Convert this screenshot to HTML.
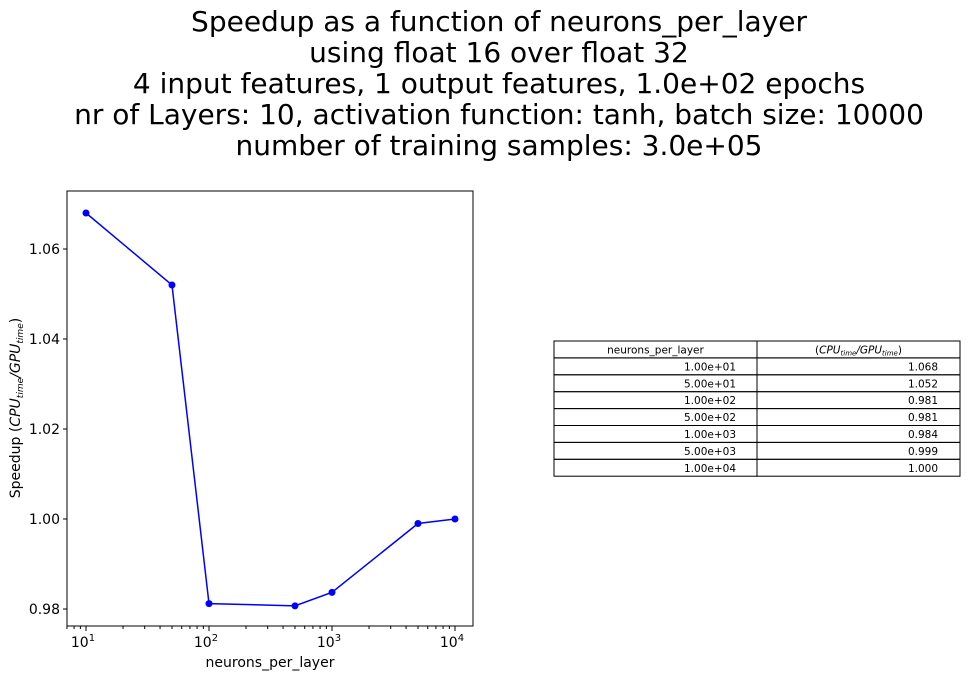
<!DOCTYPE html>
<html><head><meta charset="utf-8"><style>
body{margin:0;background:#fff;width:970px;height:677px;overflow:hidden;font-family:"DejaVu Sans","Liberation Sans",sans-serif}
</style></head><body>
<svg width="970" height="677" xmlns="http://www.w3.org/2000/svg" font-family="DejaVu Sans, Liberation Sans, sans-serif">
<g id="title" font-size="28" text-anchor="middle" fill="#000">
<text x="499" y="31">Speedup as a function of neurons_per_layer</text>
<text x="499" y="62">using float 16 over float 32</text>
<text x="499" y="93">4 input features, 1 output features, 1.0e+02 epochs</text>
<text x="499" y="124">nr of Layers: 10, activation function: tanh, batch size: 10000</text>
<text x="499" y="155">number of training samples: 3.0e+05</text>
</g>
<rect x="67" y="191" width="406" height="435" fill="none" stroke="#000" stroke-width="1"/>
<g id="axes"></g>
<g id="marks"></g>
<text x="270" y="667" font-size="14" text-anchor="middle">neurons_per_layer</text>
<text transform="translate(20,408) rotate(-90)" font-size="14" text-anchor="middle">Speedup (<tspan font-style="italic">CPU</tspan><tspan font-size="9" font-style="italic" dy="3">time</tspan><tspan dy="-3" font-style="italic">/GPU</tspan><tspan font-size="9" font-style="italic" dy="3">time</tspan><tspan dy="-3">)</tspan></text>
<g id="table" font-size="10.5"></g>
</svg>
<script>
const categories=[10,50,100,500,1000,5000,10000];
const speedups=[1.068,1.052,0.9812,0.9807,0.9837,0.9990,1.0000];
const tableLabels=["1.00e+01","5.00e+01","1.00e+02","5.00e+02","1.00e+03","5.00e+03","1.00e+04"];
const tableValues=["1.068","1.052","0.981","0.981","0.984","0.999","1.000"];
const yTicks=[0.98,1.00,1.02,1.04,1.06];
const xTicks=[1,2,3,4];
const NS="http://www.w3.org/2000/svg";
function X(v){return 86+(Math.log10(v)-1)*123;}
function Y(v){return 519-(v-1.0)/0.02*90;}
function mk(tag,attrs,parent){const e=document.createElementNS(NS,tag);for(const k in attrs)e.setAttribute(k,attrs[k]);parent.appendChild(e);return e;}
const ax=document.getElementById('axes');
yTicks.forEach(t=>{
 const l=mk('line',{x1:63,x2:67,y1:Y(t),y2:Y(t),stroke:'#000'},ax);
 
 
 const tx=mk('text',{x:60,y:Y(t)+5,'font-size':14,'text-anchor':'end'},ax);
 
 
 tx.textContent=t.toFixed(2);
});
xTicks.forEach(p=>{
 const x=X(Math.pow(10,p));
 const l=mk('line',{x1:x,x2:x,y1:626,y2:631,stroke:'#000'},ax);
 
 
 const tx=mk('text',{x:x-3,y:647,'font-size':14,'text-anchor':'middle'},ax);
 
 
 tx.innerHTML='10<tspan font-size="10" dy="-6">'+p+'</tspan>';
 for(let m=2;m<=9;m++){const v=m*Math.pow(10,p);if(Math.log10(v)>4.15)break;const xm=X(v);
  const ml=mk('line',{x1:xm,x2:xm,y1:626,y2:629,stroke:'#000'},ax);
  
  }
});
[7,8,9].forEach(m=>{const xm=X(m);const ml=mk('line',{x1:xm,x2:xm,y1:626,y2:629,stroke:'#000'},ax);
 
 });
const mg=document.getElementById('marks');
const pl=mk('polyline',{points:categories.map((c,i)=>X(c)+','+Y(speedups[i])).join(' '),fill:'none',stroke:'#0000ff','stroke-width':1.5},mg);


categories.forEach((c,i)=>{
 const p=mk('circle',{cx:X(c),cy:Y(speedups[i]),r:3.5,fill:'#0000ff'},mg);
 
 
});
const tb=document.getElementById('table');
const tx0=554,tx1=757,tx2=960,ty0=341,rh=16.9;
const hdr1=mk('text',{x:(tx0+tx1)/2,y:ty0+12.5,'text-anchor':'middle'},tb);


hdr1.textContent='neurons_per_layer';
const hdr2=mk('text',{x:(tx1+tx2)/2,y:ty0+12.5,'text-anchor':'middle'},tb);


hdr2.innerHTML='(<tspan font-style="italic">CPU</tspan><tspan font-size="7" font-style="italic" dy="2">time</tspan><tspan dy="-2" font-style="italic">/GPU</tspan><tspan font-size="7" font-style="italic" dy="2">time</tspan><tspan dy="-2">)</tspan>';
for(let r=0;r<=7;r++){
 const y=ty0+r*rh;
 const c1=mk('rect',{x:tx0,y:y,width:tx1-tx0,height:rh,fill:'none',stroke:'#000','stroke-width':1},tb);
 
 
 const c2=mk('rect',{x:tx1,y:y,width:tx2-tx1,height:rh,fill:'none',stroke:'#000','stroke-width':1},tb);
 
 
}
tableLabels.forEach((lab,i)=>{
 const y=ty0+(i+1)*rh+12.5;
 const a=mk('text',{x:tx1-21,y:y,'text-anchor':'end'},tb);
 
 
 a.textContent=lab;
 const b=mk('text',{x:tx2-22,y:y,'text-anchor':'end'},tb);
 
 
 b.textContent=tableValues[i];
});
</script>
</body></html>
